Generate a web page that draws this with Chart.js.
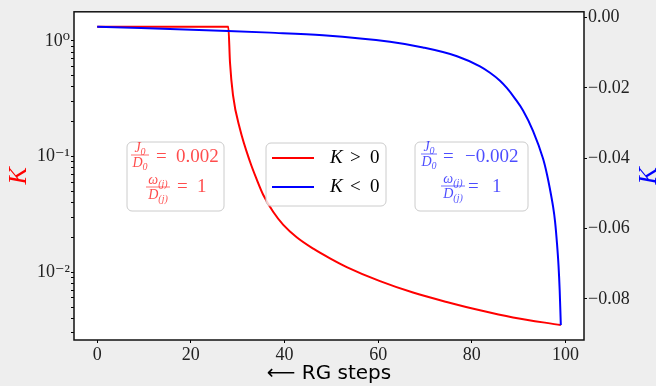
<!DOCTYPE html>
<html>
<head>
<meta charset="utf-8">
<script src="https://cdn.jsdelivr.net/npm/chart.js@4.4.1/dist/chart.umd.min.js"></script>
<style>
  html, body { margin: 0; padding: 0; background: #eeeeee; }
  #wrap { width: 656px; height: 386px; }
</style>
</head>
<body>
<div id="wrap"><canvas id="chart" width="656" height="386"></canvas></div>
<script>
// RG flow of K
const redSteps = [0, 28, 28.36, 29, 30.49, 32.62, 34.06, 35.47, 37.61, 39.74, 42.6, 46.15, 49.71, 53.28, 60.39, 67.44, 74.63, 81.74, 88.79, 99];
const redK = [1.325, 1.325, 0.649, 0.339, 0.173, 0.0906, 0.0635, 0.0465, 0.0332, 0.0257, 0.0201, 0.016, 0.0132, 0.0111, 0.00838, 0.00668, 0.00554, 0.00469, 0.00407, 0.0035];

const blueSteps = [0, 27.93, 36.9, 48.22, 62.52, 69.57, 76.83, 81.74, 83.88, 86.01, 87.51, 89.22, 90.93, 93.06, 95.2, 96.05, 96.69, 97.33, 97.76, 98.19, 98.51, 98.76, 99];
const blueK = [-0.00263, -0.00384, -0.00432, -0.00508, -0.00694, -0.00855, -0.01103, -0.01391, -0.01574, -0.018, -0.02011, -0.02307, -0.02645, -0.03223, -0.04012, -0.04463, -0.04886, -0.05365, -0.05788, -0.06436, -0.07057, -0.07761, -0.08747];

const xTicks = [0, 20, 40, 60, 80, 100];
const leftTicks = [1, 0.1, 0.01];
const leftTickLabels = ['10⁰', '10⁻¹', '10⁻²'];
const rightTicks = [-0.08, -0.06, -0.04, -0.02, 0];
const seriesLabels = ['K > 0', 'K < 0'];

const SERIF = '"Liberation Serif", "DejaVu Serif", serif';
const RED = '#ff0000';
const BLUE = '#0000ff';

function toPoints(xs, ys) {
    return xs.map((x, i) => ({ x: x, y: ys[i] }));
}

// minor ticks for the log axis (1..9 x each decade)
const logMinor = [];
[0.001, 0.01, 0.1].forEach(d => {
    for (let m = 1; m < 10; m++) logMinor.push(d * m);
});
logMinor.push(1);

function roundBox(ctx, x, y, w, h, r) {
    ctx.beginPath();
    ctx.moveTo(x + r, y);
    ctx.arcTo(x + w, y, x + w, y + h, r);
    ctx.arcTo(x + w, y + h, x, y + h, r);
    ctx.arcTo(x, y + h, x, y, r);
    ctx.arcTo(x, y, x + w, y, r);
    ctx.closePath();
    ctx.fillStyle = 'rgba(255,255,255,0.8)';
    ctx.fill();
    ctx.strokeStyle = '#cccccc';
    ctx.lineWidth = 1;
    ctx.stroke();
}

function text(ctx, s, x, y, font, color, align) {
    ctx.font = font;
    ctx.fillStyle = color;
    ctx.textAlign = align || 'left';
    ctx.textBaseline = 'middle';
    ctx.fillText(s, x, y);
}

// symbol with subscript, centred on cx
function subSym(ctx, sym, sub, cx, cy, color) {
    ctx.font = 'italic 14px ' + SERIF;
    const w1 = ctx.measureText(sym).width;
    ctx.font = 'italic 10px ' + SERIF;
    const w2 = ctx.measureText(sub).width;
    const x0 = cx - (w1 + w2) / 2;
    text(ctx, sym, x0, cy, 'italic 14px ' + SERIF, color);
    text(ctx, sub, x0 + w1, cy + 4, 'italic 10px ' + SERIF, color);
}

function fraction(ctx, num, numSub, den, denSub, cx, barY, halfW, color) {
    subSym(ctx, num, numSub, cx, barY - 7, color);
    ctx.beginPath();
    ctx.moveTo(cx - halfW, barY);
    ctx.lineTo(cx + halfW, barY);
    ctx.strokeStyle = color;
    ctx.lineWidth = 0.8;
    ctx.stroke();
    subSym(ctx, den, denSub, cx, barY + 8, color);
}

const decor = {
    id: 'decor',
    beforeDraw(chart) {
        const ctx = chart.ctx, a = chart.chartArea;
        ctx.save();
        ctx.fillStyle = '#eeeeee';
        ctx.fillRect(0, 0, chart.width, chart.height);
        ctx.fillStyle = '#ffffff';
        ctx.fillRect(a.left, a.top, a.right - a.left, a.bottom - a.top);
        ctx.restore();
    },
    afterDatasetsDraw(chart) {
        const ctx = chart.ctx, a = chart.chartArea;
        ctx.save();
        // frame
        ctx.strokeStyle = '#111';
        ctx.lineWidth = 1.5;
        ctx.strokeRect(a.left, a.top, a.right - a.left, a.bottom - a.top);

        // parameter boxes
        const redTxt = 'rgba(255,0,0,0.7)';
        const blueTxt = 'rgba(0,0,255,0.7)';
        roundBox(ctx, 127, 142, 97, 69, 5);
        fraction(ctx, 'J', '0', 'D', '0', 140, 155, 9, redTxt);
        text(ctx, '=', 156, 157, '19px ' + SERIF, redTxt);
        text(ctx, '0.002', 176, 157, '19px ' + SERIF, redTxt);
        fraction(ctx, 'ω', '(j)', 'D', '(j)', 158, 187, 12, redTxt);
        text(ctx, '=', 177, 187, '19px ' + SERIF, redTxt);
        text(ctx, '1', 197, 187, '19px ' + SERIF, redTxt);

        roundBox(ctx, 415, 142, 113, 69, 5);
        fraction(ctx, 'J', '0', 'D', '0', 429, 154, 8, blueTxt);
        text(ctx, '=', 443, 157, '19px ' + SERIF, blueTxt);
        text(ctx, '−0.002', 465, 157, '19px ' + SERIF, blueTxt);
        fraction(ctx, 'ω', '(j)', 'D', '(j)', 453, 186, 12, blueTxt);
        text(ctx, '=', 468, 187, '19px ' + SERIF, blueTxt);
        text(ctx, '1', 492, 187, '19px ' + SERIF, blueTxt);

        // legend
        roundBox(ctx, 266, 143, 120, 63, 5);
        chart.data.datasets.forEach((ds, i) => {
            const y = 158 + i * 29;
            ctx.beginPath();
            ctx.moveTo(272, y);
            ctx.lineTo(314, y);
            ctx.strokeStyle = ds.borderColor;
            ctx.lineWidth = 2;
            ctx.stroke();
            const parts = ds.label.split(' ');
            text(ctx, parts[0], 330, y, 'italic 19px ' + SERIF, '#000');
            text(ctx, parts[1], 350, y, '19px ' + SERIF, '#000');
            text(ctx, parts[2], 370, y, '19px ' + SERIF, '#000');
        });

        // axis titles
        const mid = (a.top + a.bottom) / 2;
        [[19, RED], [649, BLUE]].forEach(([x, c]) => {
            ctx.save();
            ctx.translate(x, mid);
            ctx.rotate(-Math.PI / 2);
            text(ctx, 'K', 0, 0, 'italic 26px ' + SERIF, c, 'center');
            ctx.restore();
        });
        ctx.restore();
    }
};

const tickFont = { family: SERIF, size: 18 };

new Chart(document.getElementById('chart'), {
    type: 'line',
    data: {
        datasets: [
            {
                label: seriesLabels[0],
                data: toPoints(redSteps, redK),
                yAxisID: 'y',
                borderColor: RED,
                borderWidth: 2,
                pointRadius: 0,
                cubicInterpolationMode: 'monotone',
                order: 1
            },
            {
                label: seriesLabels[1],
                data: toPoints(blueSteps, blueK),
                yAxisID: 'y2',
                borderColor: BLUE,
                borderWidth: 2,
                pointRadius: 0,
                cubicInterpolationMode: 'monotone',
                order: 0
            }
        ]
    },
    options: {
        responsive: false,
        animation: false,
        devicePixelRatio: 1,
        layout: { padding: { top: 9, left: 0, right: 0, bottom: 0 } },
        plugins: { legend: { display: false }, tooltip: { enabled: false } },
        scales: {
            x: {
                type: 'linear',
                min: -4.95,
                max: 103.95,
                afterBuildTicks: s => { s.ticks = xTicks.map(v => ({ value: v })); },
                afterFit: s => { s.height = 46; },
                ticks: { font: tickFont, color: '#222', maxRotation: 0, padding: 1 },
                grid: { drawOnChartArea: false, drawTicks: true, tickLength: 3, color: '#000' },
                border: { display: false },
                title: {
                    display: true,
                    text: '⟵ RG steps',
                    font: { family: '"DejaVu Sans", sans-serif', size: 20 },
                    color: '#000',
                    padding: { top: 0, bottom: 0 }
                }
            },
            y: {
                type: 'logarithmic',
                position: 'left',
                min: 0.0026,
                max: 1.78,
                afterBuildTicks: s => { s.ticks = logMinor.filter(v => v >= 0.0026).map(v => ({ value: v })); },
                afterFit: s => { s.width = 74; },
                ticks: {
                    font: tickFont,
                    color: '#222',
                    autoSkip: false,
                    padding: 1,
                    callback: v => {
                        const i = leftTicks.findIndex(t => Math.abs(Math.log10(v) - Math.log10(t)) < 1e-6);
                        return i >= 0 ? leftTickLabels[i] : '';
                    }
                },
                grid: { drawOnChartArea: false, drawTicks: true, tickLength: 3, color: '#000' },
                border: { display: false }
            },
            y2: {
                type: 'linear',
                position: 'right',
                min: -0.0917,
                max: 0.0016,
                afterBuildTicks: s => { s.ticks = rightTicks.map(v => ({ value: v })); },
                afterFit: s => { s.width = 72; },
                ticks: {
                    font: tickFont,
                    color: '#222',
                    padding: 1,
                    callback: v => (v < 0 ? '−' : '') + Math.abs(v).toFixed(2)
                },
                grid: { drawOnChartArea: false, drawTicks: true, tickLength: 3, color: '#000' },
                border: { display: false }
            }
        }
    },
    plugins: [decor]
});
</script>
</body>
</html>
